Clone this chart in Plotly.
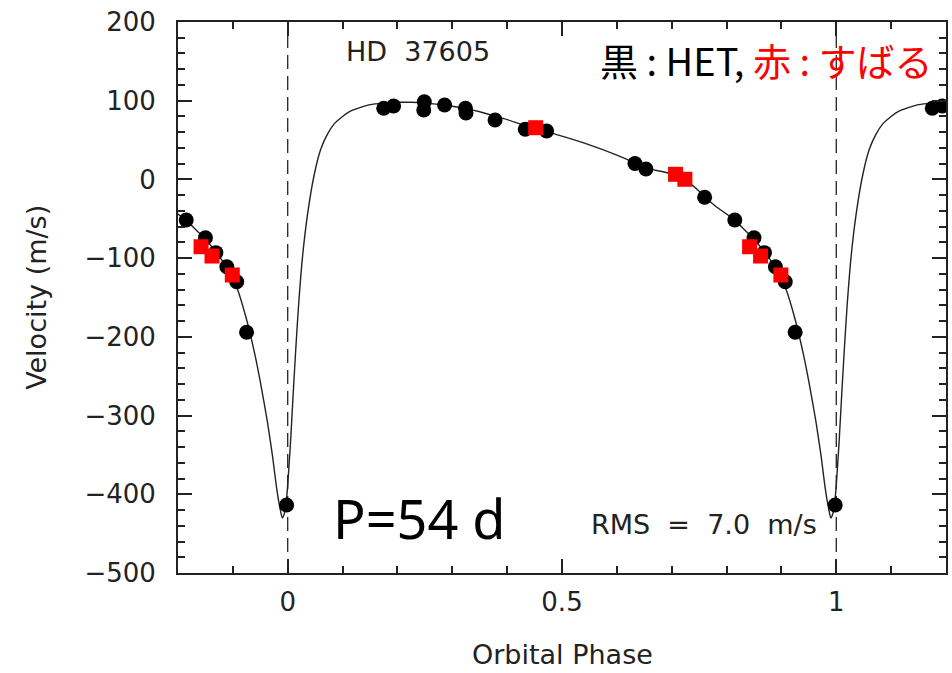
import plotly.graph_objects as go

# Radial-velocity measurements of HD 37605, folded on the 54-day period
het_phase = [0.175, 0.193, 0.248, 0.249, 0.286, 0.324, 0.325, 0.378, 0.433, 0.472,
             0.633, 0.653, 0.760, 0.815, 0.850, 0.869, 0.889, 0.907, 0.925, 0.998]
het_vel = [90.4, 93.3, 88.2, 98.7, 94.6, 90.4, 84.4, 75.5, 63.7, 61.5,
           20.3, 13.2, -22.7, -51.6, -74.0, -93.0, -110.9, -129.9, -194.2, -413.6]

subaru_phase = [0.452, 0.707, 0.724, 0.842, 0.862, 0.899]
subaru_vel = [65.7, 6.5, 0.2, -85.5, -97.3, -121.4]

# Orbit-fit curve over one period
model_phase = [0.000, 0.005, 0.010, 0.015, 0.020, 0.027, 0.036, 0.048, 0.060, 0.072,
               0.084, 0.100, 0.115, 0.130, 0.150, 0.175, 0.200, 0.225, 0.250, 0.280,
               0.300, 0.325, 0.350, 0.380, 0.400, 0.430, 0.450, 0.470, 0.500, 0.550,
               0.600, 0.633, 0.650, 0.700, 0.725, 0.750, 0.760, 0.780, 0.800, 0.815,
               0.830, 0.850, 0.870, 0.890, 0.907, 0.925, 0.940, 0.950, 0.963, 0.972,
               0.980, 0.986, 0.990, 0.994, 0.997]
model_vel = [-388, -335, -272, -212, -158, -98, -45, 5, 38, 57,
             70, 80, 87, 91, 95, 97, 98, 98, 97, 95,
             93, 90, 86, 80, 76, 69, 65, 61, 55, 44,
             31, 21, 15, 7, -1, -15, -22, -34, -44, -52,
             -62, -76, -93, -113, -137, -178, -222, -257, -308, -350,
             -393, -418, -430, -424, -412]

periastron_phases = [0, 1]
x_range = [-0.2, 1.2]
y_range = [-500, 200]
cycle_shifts = [-1, 0, 1]


def fold(phases, values, lo, hi):
    pts = sorted((p + s, v) for s in cycle_shifts for p, v in zip(phases, values)
                 if lo <= p + s <= hi)
    return [p for p, _ in pts], [v for _, v in pts]


mx, my = fold(model_phase, model_vel, -0.25, 1.25)
hx, hy = fold(het_phase, het_vel, -0.21, 1.21)
sx, sy = fold(subaru_phase, subaru_vel, -0.21, 1.21)

ink = "#222222"
tick_font = dict(family="DejaVu Sans", size=26, color=ink)
sp2 = "\u00a0\u00a0"

fig = go.Figure()
fig.add_trace(go.Scatter(x=mx, y=my, mode="lines",
                         line=dict(color=ink, width=1.4, shape="spline", smoothing=0.6),
                         hoverinfo="skip", showlegend=False))
fig.add_trace(go.Scatter(x=hx, y=hy, mode="markers", name="HET",
                         marker=dict(symbol="circle", size=15, color="black"),
                         showlegend=False))
fig.add_trace(go.Scatter(x=sx, y=sy, mode="markers", name="すばる",
                         marker=dict(symbol="square", size=15, color="#ff0000"),
                         showlegend=False))

for xp in periastron_phases:
    fig.add_shape(type="line", xref="x", yref="paper", x0=xp, x1=xp, y0=0, y1=1,
                  line=dict(color=ink, width=1.3, dash="14px,7px"), layer="below")

fig.update_xaxes(range=x_range, tick0=0, dtick=0.5, ticks="inside", ticklen=14,
                 tickwidth=1.6, tickcolor=ink, showline=True, linewidth=2, linecolor=ink,
                 mirror="ticks", showgrid=False, zeroline=False, tickfont=tick_font,
                 ticklabelstandoff=5,
                 minor=dict(dtick=0.1, ticks="inside", ticklen=7, tickwidth=1.6,
                            tickcolor=ink, showgrid=False))
fig.update_yaxes(range=y_range, tick0=0, dtick=100, ticks="inside", ticklen=14,
                 tickwidth=1.6, tickcolor=ink, showline=True, linewidth=2, linecolor=ink,
                 mirror="ticks", showgrid=False, zeroline=False, tickfont=tick_font,
                 ticklabelstandoff=15,
                 minor=dict(dtick=20, ticks="inside", ticklen=7, tickwidth=1.6,
                            tickcolor=ink, showgrid=False))

label_font = dict(family="DejaVu Sans", size=27, color=ink)
fig.add_annotation(text="Velocity (m/s)", xref="paper", yref="paper",
                   x=-142 / 770, y=0.5, textangle=-90, showarrow=False,
                   xanchor="center", yanchor="middle", font=label_font)
fig.add_annotation(text="Orbital Phase", xref="paper", yref="paper",
                   x=0.5, y=-81 / 551, showarrow=False,
                   xanchor="center", yanchor="middle", font=label_font)
fig.add_annotation(text="HD" + sp2 + "37605", xref="x", yref="y", x=0.102, y=162,
                   showarrow=False, xanchor="left", yanchor="middle",
                   font=dict(family="DejaVu Sans", size=27, color=ink))
fig.add_annotation(text="RMS" + sp2 + "=" + sp2 + "7.0" + sp2 + "m/s",
                   xref="x", yref="y", x=0.549, y=-438,
                   showarrow=False, xanchor="left", yanchor="middle",
                   font=dict(family="DejaVu Sans", size=27, color=ink))
fig.add_annotation(text="P=54 d", xref="x", yref="y", x=0.078, y=-430,
                   showarrow=False, xanchor="left", yanchor="middle",
                   font=dict(family="Noto Sans", size=54, color="black"))
fig.add_annotation(text="黒 : HET, <span style='color:#ff0000'>赤 : すばる</span>",
                   xref="x", yref="y", x=0.565, y=153, showarrow=False,
                   xanchor="left", yanchor="middle",
                   font=dict(family="Noto Sans CJK JP", size=38, color="black"))

fig.update_layout(width=952, height=673, margin=dict(l=178, r=4, t=22, b=100),
                  plot_bgcolor="white", paper_bgcolor="white", showlegend=False)

fig.write_html("out.html")
